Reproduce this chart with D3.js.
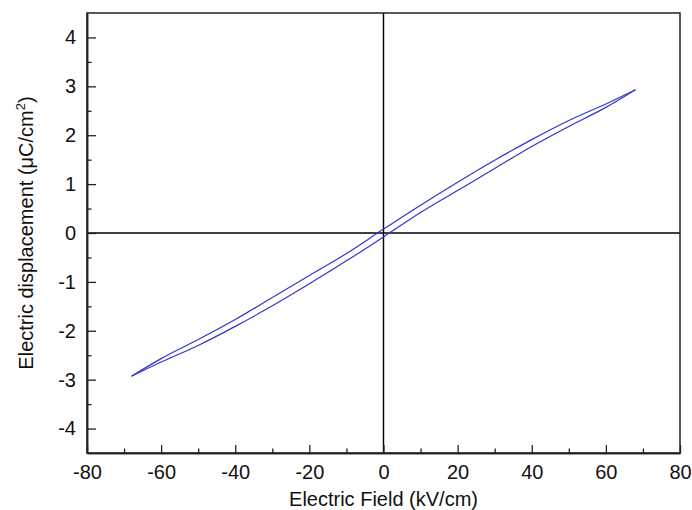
<!DOCTYPE html>
<html>
<head>
<meta charset="utf-8">
<script src="https://cdn.jsdelivr.net/npm/d3@7"></script>
<style>
  body { margin: 0; background: #fff; }
  svg { display: block; font-family: "Liberation Sans", Arial, sans-serif; }
</style>
</head>
<body>
<svg id="chart" width="692" height="510"></svg>
<script>
// field values (kV/cm), both branches listed left to right
const field     = [-68, -60, -50, -40, -30, -20, -10, 0, 10, 20, 30, 40, 50, 60, 68];
// branch swept from +68 down to -68 (upper)
const dispDown  = [-2.93, -2.57, -2.18, -1.77, -1.32, -0.87, -0.42, 0.08, 0.57, 1.04, 1.49, 1.91, 2.30, 2.64, 2.93];
// branch swept from -68 up to +68 (lower)
const dispUp    = [-2.93, -2.64, -2.30, -1.91, -1.49, -1.04, -0.57, -0.08, 0.42, 0.87, 1.32, 1.77, 2.18, 2.57, 2.93];

const xTicks = [-80, -60, -40, -20, 0, 20, 40, 60, 80];
const xMinor = [-70, -50, -30, -10, 10, 30, 50, 70];
const yTicks = [-4, -3, -2, -1, 0, 1, 2, 3, 4];
const yMinor = [-3.5, -2.5, -1.5, -0.5, 0.5, 1.5, 2.5, 3.5];

const margin = {top: 13, right: 12, bottom: 57, left: 87};
const width = 692, height = 510;

const svg = d3.select('#chart');

const x = d3.scaleLinear().domain([-80, 80]).range([margin.left, width - margin.right]);
const y = d3.scaleLinear().domain([-4.5, 4.5]).range([height - margin.bottom, margin.top]);

const line = d3.line()
  .x(d => x(d[0]))
  .y(d => y(d[1]))
  .curve(d3.curveMonotoneX);

// zero lines
svg.append('line')
  .attr('x1', x(0)).attr('x2', x(0))
  .attr('y1', y(4.5)).attr('y2', y(-4.5))
  .attr('stroke', '#000').attr('stroke-width', 1.4);
svg.append('line')
  .attr('x1', x(-80)).attr('x2', x(80))
  .attr('y1', y(0)).attr('y2', y(0))
  .attr('stroke', '#000').attr('stroke-width', 1.4);

[dispDown, dispUp].forEach(branch => {
  svg.append('path')
    .datum(field.map((e, i) => [e, branch[i]]))
    .attr('d', line)
    .attr('fill', 'none')
    .attr('stroke', '#3434c8')
    .attr('stroke-width', 1.2);
});

// frame
svg.append('rect')
  .attr('x', x(-80)).attr('y', y(4.5))
  .attr('width', x(80) - x(-80))
  .attr('height', y(-4.5) - y(4.5))
  .attr('fill', 'none')
  .attr('stroke', '#222')
  .attr('stroke-width', 1.5);

// axes, ticks pointing inward
svg.append('g')
  .attr('transform', `translate(0,${y(-4.5)})`)
  .call(d3.axisBottom(x).tickValues(xTicks).tickFormat(d => String(d)).tickSize(-8).tickPadding(12).tickSizeOuter(0));
svg.append('g')
  .attr('transform', `translate(0,${y(-4.5)})`)
  .call(d3.axisBottom(x).tickValues(xMinor).tickSize(-4.5).tickFormat('').tickSizeOuter(0));

svg.append('g')
  .attr('transform', `translate(${x(-80)},0)`)
  .call(d3.axisLeft(y).tickValues(yTicks).tickFormat(d => String(d)).tickSize(-9).tickPadding(11).tickSizeOuter(0));
svg.append('g')
  .attr('transform', `translate(${x(-80)},0)`)
  .call(d3.axisLeft(y).tickValues(yMinor).tickSize(-4.5).tickFormat('').tickSizeOuter(0));

svg.selectAll('.domain').attr('stroke', '#222').attr('stroke-width', 1.5);
svg.selectAll('.tick line').attr('stroke', '#222').attr('stroke-width', 1.3);
svg.selectAll('.tick text')
  .attr('font-size', 20)
  .attr('font-family', '"Liberation Sans", Arial, sans-serif')
  .attr('fill', '#111');

// axis titles
svg.append('text')
  .attr('x', x(0))
  .attr('y', 506)
  .attr('text-anchor', 'middle')
  .attr('font-size', 20)
  .attr('fill', '#111')
  .text('Electric Field (kV/cm)');

const yt = svg.append('text')
  .attr('transform', `translate(33,${y(0)}) rotate(-90)`)
  .attr('text-anchor', 'middle')
  .attr('font-size', 20)
  .attr('fill', '#111');
yt.append('tspan').text('Electric displacement (\u03BCC/cm');
yt.append('tspan').attr('font-size', 13).attr('dy', -8).text('2');
yt.append('tspan').attr('dy', 8).text(')');
</script>
</body>
</html>
